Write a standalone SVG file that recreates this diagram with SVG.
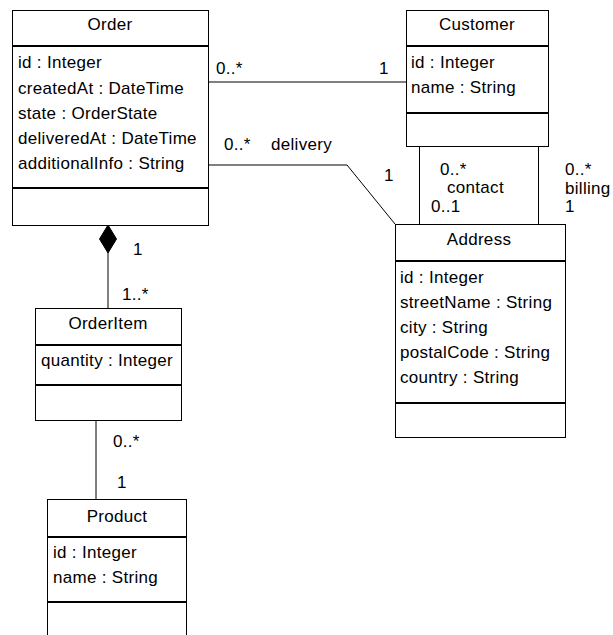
<svg xmlns="http://www.w3.org/2000/svg" width="613" height="635" viewBox="0 0 613 635">
  <style>
    .box { fill: #ffffff; stroke: #000000; stroke-width: 1; }
    .sep { stroke: #000000; stroke-width: 2.2; }
    .edge { fill: none; stroke: #000000; stroke-width: 1; }
    text { font-family: "Liberation Sans", Arial, sans-serif; font-size: 17px; letter-spacing: 0.3px; fill: #000000; }
    .title { text-anchor: middle; }
  </style>
  <rect width="613" height="635" fill="#ffffff"/>

  <!-- associations -->
  <g id="connectors">
    <line class="edge" x1="208" y1="82" x2="406" y2="82"/>
    <polyline class="edge" points="208,165 347,165 395,224"/>
    <line class="edge" x1="419.5" y1="147" x2="419.5" y2="224"/>
    <line class="edge" x1="538.5" y1="147" x2="538.5" y2="224"/>
    <line class="edge" x1="108" y1="253" x2="108" y2="308"/>
    <polygon points="108,225 116.5,239 108,253 99.5,239" fill="#000000" stroke="#000000" stroke-width="1"/>
    <line class="edge" x1="96" y1="420" x2="96" y2="499"/>
    <!-- multiplicities and role names -->
    <text x="216" y="74">0..*</text>
    <text x="379" y="74">1</text>
    <text x="224" y="150">0..*</text>
    <text x="271" y="150">delivery</text>
    <text x="384" y="181">1</text>
    <text x="440" y="175">0..*</text>
    <text x="447" y="193">contact</text>
    <text x="431" y="212">0..1</text>
    <text x="565" y="175">0..*</text>
    <text x="565" y="194" font-size="16.5">billing</text>
    <text x="565" y="212">1</text>
    <text x="133" y="255">1</text>
    <text x="122" y="300">1..*</text>
    <text x="113" y="447">0..*</text>
    <text x="117" y="488">1</text>
  </g>

  <g id="order">
    <rect class="box" x="12.5" y="10.5" width="196" height="215"/>
    <line class="sep" x1="12.5" y1="46" x2="208.5" y2="46"/>
    <line class="sep" x1="12.5" y1="188" x2="208.5" y2="188"/>
    <text class="title" x="110" y="30">Order</text>
    <text x="18" y="68">id : Integer</text>
    <text x="18" y="94">createdAt : DateTime</text>
    <text x="18" y="119">state : OrderState</text>
    <text x="18" y="144">deliveredAt : DateTime</text>
    <text x="18" y="169">additionalInfo : String</text>
  </g>

  <g id="customer">
    <rect class="box" x="406.5" y="10.5" width="142" height="136"/>
    <line class="sep" x1="406.5" y1="46" x2="548.5" y2="46"/>
    <line class="sep" x1="406.5" y1="113" x2="548.5" y2="113"/>
    <text class="title" x="477" y="30">Customer</text>
    <text x="411" y="68">id : Integer</text>
    <text x="411" y="93">name : String</text>
  </g>

  <g id="address">
    <rect class="box" x="395.5" y="224.5" width="170" height="213"/>
    <line class="sep" x1="395.5" y1="261" x2="565.5" y2="261"/>
    <line class="sep" x1="395.5" y1="403" x2="565.5" y2="403"/>
    <text class="title" x="479" y="245">Address</text>
    <text x="400" y="283">id : Integer</text>
    <text x="400" y="308">streetName : String</text>
    <text x="400" y="333">city : String</text>
    <text x="400" y="358">postalCode : String</text>
    <text x="400" y="383">country : String</text>
  </g>

  <g id="orderitem">
    <rect class="box" x="35.5" y="308.5" width="146" height="112"/>
    <line class="sep" x1="35.5" y1="345" x2="181.5" y2="345"/>
    <line class="sep" x1="35.5" y1="385" x2="181.5" y2="385"/>
    <text class="title" x="108" y="329">OrderItem</text>
    <text x="41" y="366">quantity : Integer</text>
  </g>

  <g id="product">
    <rect class="box" x="47.5" y="499.5" width="139" height="160"/>
    <line class="sep" x1="47.5" y1="537" x2="186.5" y2="537"/>
    <line class="sep" x1="47.5" y1="602" x2="186.5" y2="602"/>
    <text class="title" x="117" y="522">Product</text>
    <text x="53" y="558">id : Integer</text>
    <text x="53" y="583">name : String</text>
  </g>
</svg>
